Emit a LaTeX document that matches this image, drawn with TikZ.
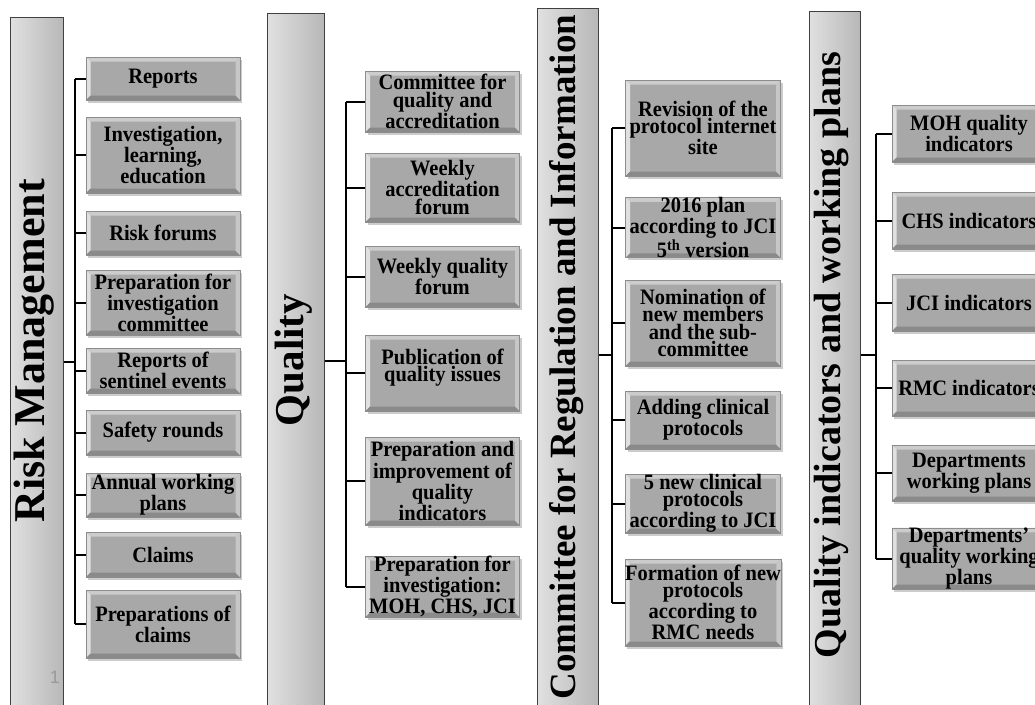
\documentclass[tikz,border=0pt]{standalone}
\usepackage{fontspec}
\setmainfont{Liberation Serif}
\newfontfamily\boxfont[FakeStretch=0.93]{Liberation Serif}
\newfontfamily\pagenumfont{Liberation Sans}
\usetikzlibrary{shadows}
\tikzset{
  bar/.style={draw=black!75, line width=1pt, left color=black!12, middle color=black!2, right color=black!28, inner sep=0pt},
  title/.style={rotate=90, font=\bfseries\fontsize{#1}{#1}\selectfont, inner sep=0pt},
  conn/.style={draw=black, line width=2pt},
  bevel/.style={path picture={
    \fill[black!20] (path picture bounding box.north west) -- (path picture bounding box.north east)
       -- ([shift={(-4.5pt,-4.5pt)}]path picture bounding box.north east) -- ([shift={(4.5pt,-4.5pt)}]path picture bounding box.north west) -- cycle;
    \fill[black!12] (path picture bounding box.north west) -- ([shift={(4.5pt,-4.5pt)}]path picture bounding box.north west)
       -- ([shift={(4.5pt,4.5pt)}]path picture bounding box.south west) -- (path picture bounding box.south west) -- cycle;
    \fill[black!46] (path picture bounding box.south west) -- ([shift={(4.5pt,4.5pt)}]path picture bounding box.south west)
       -- ([shift={(-4.5pt,4.5pt)}]path picture bounding box.south east) -- (path picture bounding box.south east) -- cycle;
    \fill[black!22] (path picture bounding box.north east) -- (path picture bounding box.south east)
       -- ([shift={(-4.5pt,4.5pt)}]path picture bounding box.south east) -- ([shift={(-4.5pt,-4.5pt)}]path picture bounding box.north east) -- cycle;
  }},
  box/.style={fill=black!34, draw=black!45, line width=0.6pt, minimum width=154pt, minimum height=#1, align=center, inner sep=0pt,
    font=\boxfont\bfseries\fontsize{22}{17.5}\selectfont, text=black, bevel,
    drop shadow={shadow xshift=2pt, shadow yshift=-2.5pt, fill=black!50, opacity=0.4}},
}
\begin{document}
\begin{tikzpicture}[x=1pt,y=-1pt]
\useasboundingbox (0,0) rectangle (1035,704);
\fill[white] (0,0) rectangle (1035,704);
\clip (0,0) rectangle (1035,704);

% ---------- Column 1: Risk Management ----------
\node[bar, minimum width=53pt, minimum height=703pt] (rmbar) at (36.5,368.5) {};
\node[title=44] (rmtitle) at (34,351) {Risk Management};
\node[text=black!40, font=\pagenumfont\fontsize{18}{18}\selectfont, inner sep=0pt] (pagenum) at (55,677) {1};
\coordinate (rmt) at (75,362);
\node[box=43pt] (r1) at (163,78.5) {Reports};
\node[box=76pt] (r2) at (163,155) {Investigation,\\learning,\\education};
\node[box=44pt] (r3) at (163,233) {Risk forums};
\node[box=65pt] (r4) at (163,302.5) {Preparation for\\investigation\\committee};
\node[box=45pt] (r5) at (163,370.5) {Reports of\\sentinel events};
\node[box=45pt] (r6) at (163,432.5) {Safety rounds};
\node[box=44pt] (r7) at (163,495) {Annual working\\plans};
\node[box=45pt] (r8) at (163,554.5) {Claims};
\node[box=68pt] (r9) at (163,624) {Preparations of\\claims};
\draw[conn] (rmbar.east |- rmt) -- (rmt);
\draw[conn] (rmt |- r1.west) -- (rmt |- r9.west);
\foreach \n in {r1,r2,r3,r4,r5,r6,r7,r8,r9} \draw[conn] (rmt |- \n.west) -- (\n.west);

% ---------- Column 2: Quality ----------
\node[bar, minimum width=57pt, minimum height=707pt] (qbar) at (295.5,366.5) {};
\node[title=41] (qtitle) at (294,360) {Quality};
\coordinate (qt) at (346,361);
\node[box=61pt] (q1) at (442.5,101.5) {Committee for\\quality and\\accreditation};
\node[box=69pt] (q2) at (442.5,187.5) {Weekly\\accreditation\\forum};
\node[box=61pt] (q3) at (442.5,276.5) {Weekly quality\\forum};
\node[box=76pt] (q4) at (442.5,373) {Publication of\\quality issues\\[-2pt]\mbox{}};
\node[box=88pt] (q5) at (442.5,481) {Preparation and\\improvement of\\quality\\indicators};
\node[box=61pt] (q6) at (442.5,586.5) {Preparation for\\investigation:\\MOH, CHS, JCI};
\draw[conn] (qbar.east |- qt) -- (qt);
\draw[conn] (qt |- q1.west) -- (qt |- q6.west);
\foreach \n in {q1,q2,q3,q4,q5,q6} \draw[conn] (qt |- \n.west) -- (\n.west);

% ---------- Column 3: Committee for Regulation and Information ----------
\node[bar, minimum width=61pt, minimum height=712pt] (cbar) at (567.5,364) {};
\node[title=37] (ctitle) at (567,357) {Committee for Regulation and Information};
\coordinate (ct) at (612,355);
\node[box=96pt, minimum width=155pt] (c1) at (703,128) {Revision of the\\protocol internet\\site};
\node[box=59pt, minimum width=155pt] (c2) at (703,227.5) {2016 plan\\according to JCI\\5\textsuperscript{th} version};
\node[box=86pt, minimum width=155pt] (c3) at (703,323) {Nomination of\\new members\\and the sub-\\committee};
\node[box=58pt, minimum width=155pt] (c4) at (703,420) {Adding clinical\\protocols};
\node[box=59pt, minimum width=155pt] (c5) at (703,503.5) {5 new clinical\\protocols\\according to JCI};
\node[box=87pt, minimum width=155pt] (c6) at (703,602.5) {Formation of new\\protocols\\according to\\RMC needs};
\draw[conn] (cbar.east |- ct) -- (ct);
\draw[conn] (ct |- c1.west) -- (ct |- c6.west);
\foreach \n in {c1,c2,c3,c4,c5,c6} \draw[conn] (ct |- \n.west) -- (\n.west);

% ---------- Column 4: Quality indicators and working plans ----------
\node[bar, minimum width=51pt, minimum height=709pt] (mbar) at (834.5,365.5) {};
\node[title=38] (mtitle) at (831,355) {Quality indicators and working plans};
\coordinate (mt) at (876,355);
\node[box=57pt] (m1) at (969,133.5) {MOH quality\\indicators};
\node[box=57pt] (m2) at (969,220.5) {CHS indicators};
\node[box=57pt] (m3) at (969,302.5) {JCI indicators};
\node[box=56pt] (m4) at (969,388) {RMC indicators};
\node[box=56pt] (m5) at (969,473) {Departments\\working plans};
\node[box=57pt] (m6) at (969,558.5) {Departments’\\quality working\\plans};
\draw[conn] (mbar.east |- mt) -- (mt);
\draw[conn] (mt |- m1.west) -- (mt |- m6.west);
\foreach \n in {m1,m2,m3,m4,m5,m6} \draw[conn] (mt |- \n.west) -- (\n.west);
\end{tikzpicture}
\end{document}
